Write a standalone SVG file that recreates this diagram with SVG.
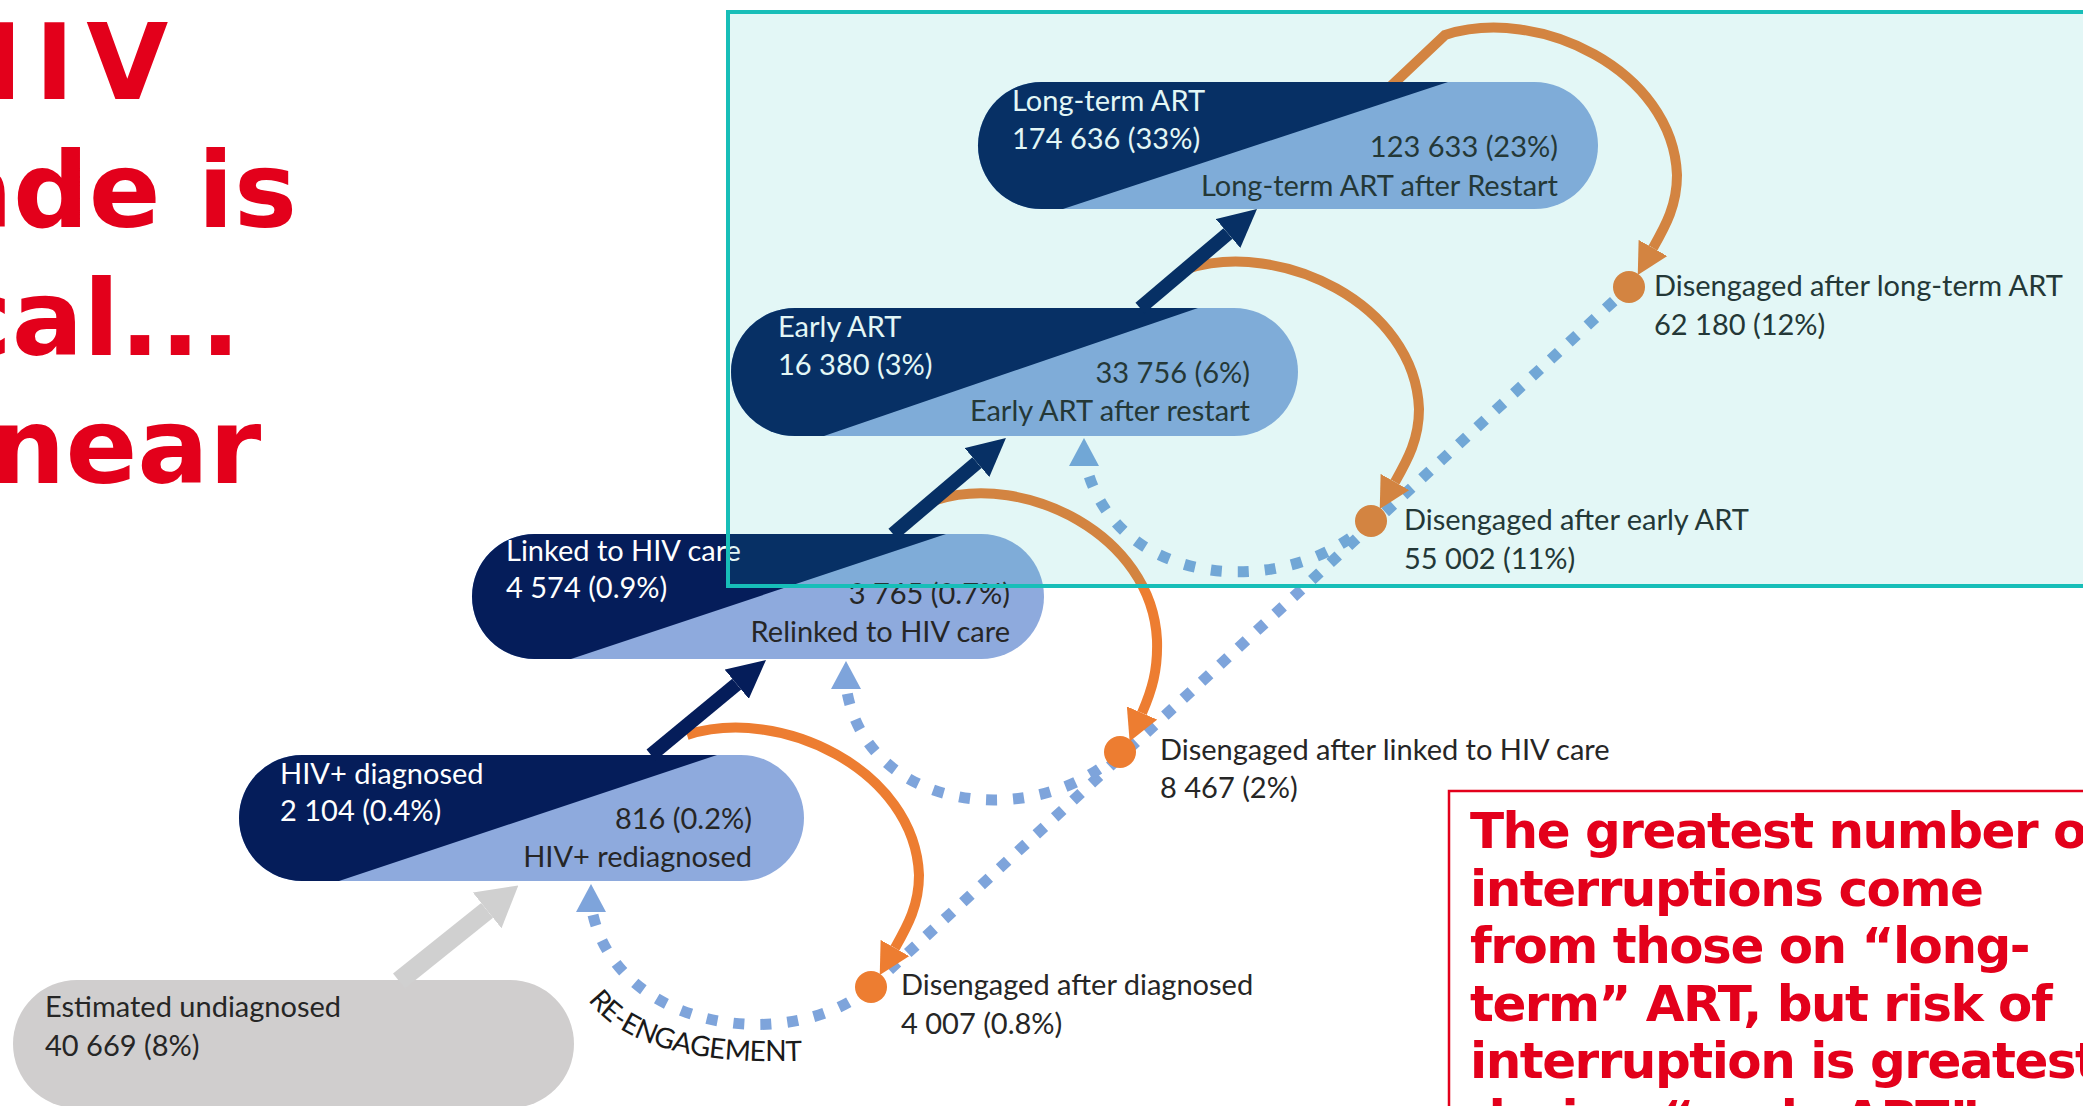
<svg xmlns="http://www.w3.org/2000/svg" width="2083" height="1106" viewBox="0 0 2083 1106">
<defs>
<style>
.lbl{font-family:Lato,"Liberation Sans",sans-serif;font-size:29px;fill:#262626}
.wt{fill:#ffffff}
.title{font-family:"DejaVu Sans",sans-serif;font-weight:bold;font-size:106px;fill:#E3001B}
.note{font-family:"DejaVu Sans",sans-serif;font-weight:bold;font-size:50px;letter-spacing:-1.5px;fill:#E3001B}
.light{fill:#8EAADD}
.dark{fill:#051D5A}
.nav{stroke:#051D5A;stroke-width:14;fill:none}
.dot{stroke:#7EA4DB;stroke-width:11;stroke-dasharray:11 14;fill:none}
.dotc{stroke:#7EA4DB;stroke-width:11;stroke-dasharray:11 16;fill:none}
.orn{stroke:#ED7D31;stroke-width:10;fill:none}
.circ{fill:#ED7D31}
.tri{fill:#7EA4DB}
</style>
<marker id="hn" markerUnits="userSpaceOnUse" viewBox="0 0 38 38" markerWidth="38" markerHeight="38" refX="0" refY="19" orient="auto"><path d="M0,0 L38,19 L0,38 z" fill="#051D5A"/></marker>
<marker id="hg" markerUnits="userSpaceOnUse" viewBox="0 0 40 46" markerWidth="40" markerHeight="46" refX="0" refY="23" orient="auto"><path d="M0,0 L40,23 L0,46 z" fill="#D0D0D0"/></marker>
<marker id="ho" markerUnits="userSpaceOnUse" viewBox="0 0 31 33" markerWidth="31" markerHeight="33" refX="0" refY="16.5" orient="auto"><path d="M0,0 L31,16.5 L0,33 z" fill="#ED7D31"/></marker>
<path id="rePath" d="M588,1000 Q640,1070 818,1060"/>
</defs>
<rect width="2083" height="1106" fill="#ffffff"/>

<g id="title">
<text class="title" x="-66" y="99" letter-spacing="12">HIV</text>
<text class="title" x="-58.6" y="227">ade is</text>
<text class="title" x="-51" y="355">cal...</text>
<text class="title" x="-10" y="483">near</text>
</g>

<g id="connectors">
<path class="dot" d="M871,987 L1629,287"/>
<path class="dotc" d="M871,987 C790,1055 620,1030 593,915"/>
<path class="dotc" d="M1120,752 C1040,830 870,815 847,692"/>
<path class="dotc" d="M1371,521 C1290,600 1120,590 1087,469"/>
<polygon class="tri" points="591,884 576,912 606,912"/>
<polygon class="tri" points="846,661 831,689 861,689"/>
<polygon class="tri" points="1084,438 1069,466 1099,466"/>
<path class="orn" d="M687,735 C780,705 915,770 919,875 C919,905 908,925 895,948" marker-end="url(#ho)"/>
<path class="orn" d="M936,500 C1025,472 1152,535 1157,640 C1158,670 1152,690 1142,713" marker-end="url(#ho)"/>
<path class="orn" d="M1187,269 C1280,239 1415,304 1419,409 C1419,439 1408,459 1395,482" marker-end="url(#ho)"/>
<path class="orn" d="M1390,87 L1445,35 C1538,5 1673,70 1677,175 C1677,205 1666,225 1653,248" marker-end="url(#ho)"/>
<text font-family="Lato,'Liberation Sans',sans-serif" font-size="28" fill="#1a1a1a" letter-spacing="-0.5"><textPath href="#rePath">RE-ENGAGEMENT</textPath></text>
</g>

<g id="dis-diag">
<circle class="circ" cx="871" cy="987" r="16"/>
<text class="lbl" x="901" y="995">Disengaged after diagnosed</text>
<text class="lbl" x="901" y="1034">4 007 (0.8%)</text>
</g>
<g id="dis-linked">
<circle class="circ" cx="1120" cy="752" r="16"/>
<text class="lbl" x="1160" y="760">Disengaged after linked to HIV care</text>
<text class="lbl" x="1160" y="798">8 467 (2%)</text>
</g>
<g id="dis-early">
<circle class="circ" cx="1371" cy="521" r="16"/>
<text class="lbl" x="1404" y="530">Disengaged after early ART</text>
<text class="lbl" x="1404" y="569">55 002 (11%)</text>
</g>
<g id="dis-long">
<circle class="circ" cx="1629" cy="287" r="16"/>
<text class="lbl" x="1654" y="296">Disengaged after long-term ART</text>
<text class="lbl" x="1654" y="335">62 180 (12%)</text>
</g>

<g id="undiagnosed">
<rect x="13" y="980" width="561" height="128" rx="64" fill="#D0CECE"/>
<text class="lbl" x="45" y="1017">Estimated undiagnosed</text>
<text class="lbl" x="45" y="1056">40 669 (8%)</text>
</g>

<g id="diagnosed">
<rect class="light" x="239" y="755" width="565" height="126" rx="63"/>
<path class="dark" d="M302,755 L717,755 L339,881 L302,881 A63,63 0 0 1 302,755 Z"/>
<text class="lbl wt" x="280" y="784">HIV+ diagnosed</text>
<text class="lbl wt" x="280" y="821">2 104 (0.4%)</text>
<text class="lbl" x="752" y="829" text-anchor="end">816 (0.2%)</text>
<text class="lbl" x="752" y="867" text-anchor="end">HIV+ rediagnosed</text>
</g>

<g id="linked">
<rect class="light" x="472" y="534" width="572" height="125" rx="62.5"/>
<path class="dark" d="M534.5,534 L946,534 L571,659 L534.5,659 A62.5,62.5 0 0 1 534.5,534 Z"/>
<text class="lbl wt" x="506" y="561">Linked to HIV care</text>
<text class="lbl wt" x="506" y="598">4 574 (0.9%)</text>
<text class="lbl" x="1010" y="604" text-anchor="end">3 765 (0.7%)</text>
<text class="lbl" x="1010" y="642" text-anchor="end">Relinked to HIV care</text>
</g>

<g id="early">
<rect class="light" x="731" y="308" width="567" height="128" rx="64"/>
<path class="dark" d="M795,308 L1198,308 L824,436 L795,436 A64,64 0 0 1 795,308 Z"/>
<text class="lbl wt" x="778" y="337">Early ART</text>
<text class="lbl wt" x="778" y="375">16 380 (3%)</text>
<text class="lbl" x="1250" y="383" text-anchor="end">33 756 (6%)</text>
<text class="lbl" x="1250" y="421" text-anchor="end">Early ART after restart</text>
</g>

<g id="longterm">
<rect class="light" x="978" y="82" width="620" height="127" rx="63.5"/>
<path class="dark" d="M1041.5,82 L1448,82 L1063,209 L1041.5,209 A63.5,63.5 0 0 1 1041.5,82 Z"/>
<text class="lbl wt" x="1012" y="111">Long-term ART</text>
<text class="lbl wt" x="1012" y="149">174 636 (33%)</text>
<text class="lbl" x="1558" y="157" text-anchor="end">123 633 (23%)</text>
<text class="lbl" x="1558" y="196" text-anchor="end">Long-term ART after Restart</text>
</g>

<g id="arrows">
<line x1="399" y1="981" x2="487.1" y2="910.4" stroke="#D0D0D0" stroke-width="19" marker-end="url(#hg)"/>
<line class="nav" x1="651" y1="755" x2="736.7" y2="684.2" marker-end="url(#hn)"/>
<line class="nav" x1="893" y1="534" x2="977" y2="462.6" marker-end="url(#hn)"/>
<line class="nav" x1="1140" y1="308" x2="1228" y2="233.5" marker-end="url(#hn)"/>
</g>

<g id="highlight">
<rect x="728" y="12" width="1400" height="574" fill="#1ABFB8" fill-opacity="0.12" stroke="#17BEB8" stroke-width="4"/>
</g>

<g id="note">
<rect x="1449" y="791" width="700" height="400" fill="none" stroke="#E3001B" stroke-width="2.5"/>
<text class="note" x="1470" y="848">The greatest number of</text>
<text class="note" x="1470" y="906">interruptions come</text>
<text class="note" x="1470" y="963">from those on “long-</text>
<text class="note" x="1470" y="1021">term” ART, but risk of</text>
<text class="note" x="1470" y="1078">interruption is greatest</text>
<text class="note" x="1470" y="1136">during “early ART”.</text>
</g>
</svg>
